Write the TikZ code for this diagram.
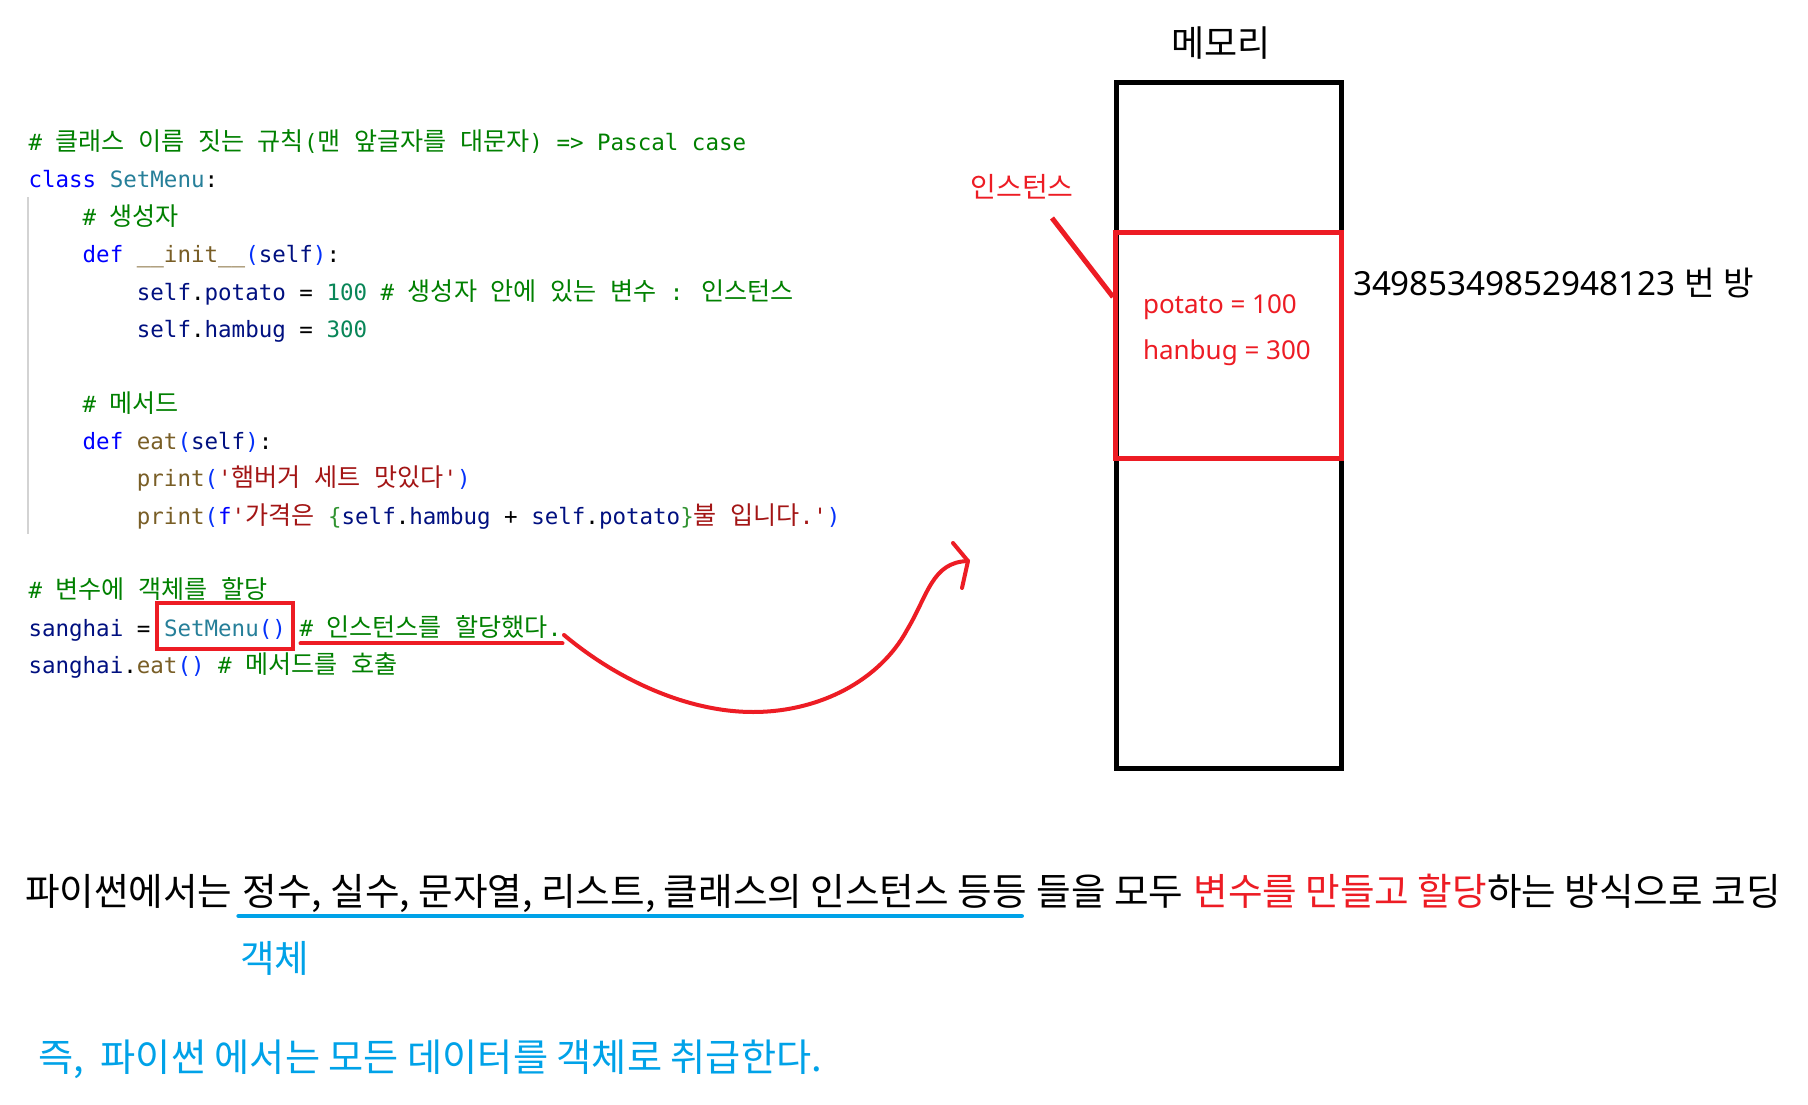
\documentclass[tikz,border=0pt]{standalone}
\usepackage{fontspec}
\setmainfont{Noto Sans}
\newfontfamily\codefont{DejaVu Sans Mono}[Ligatures=TeXOff]
\newfontfamily\hangulfont{Noto Sans CJK KR}
\def\hangulswitch{\hangulfont}
\newcommand\K[1]{{\hangulswitch #1}}

\definecolor{cmt}{HTML}{008000}
\definecolor{kwd}{HTML}{0000FF}
\definecolor{clsc}{HTML}{267F99}
\definecolor{varc}{HTML}{001080}
\definecolor{func}{HTML}{795E26}
\definecolor{numc}{HTML}{098658}
\definecolor{strc}{HTML}{A31515}
\definecolor{bra}{HTML}{0431FA}
\definecolor{brb}{HTML}{319331}
\definecolor{pred}{HTML}{ED1C24}
\definecolor{pblue}{HTML}{00A2E8}
\definecolor{guide}{HTML}{D3D3D3}

\newcommand\Ccm[1]{\textcolor{cmt}{#1}}
\newcommand\Ckw[1]{\textcolor{kwd}{#1}}
\newcommand\Ccl[1]{\textcolor{clsc}{#1}}
\newcommand\Cva[1]{\textcolor{varc}{#1}}
\newcommand\Cfn[1]{\textcolor{func}{#1}}
\newcommand\Cnu[1]{\textcolor{numc}{#1}}
\newcommand\Cst[1]{\textcolor{strc}{#1}}
\newcommand\Cba[1]{\textcolor{bra}{#1}}
\newcommand\Cbb[1]{\textcolor{brb}{#1}}
\newcommand\codesetup{\codefont\fontsize{22.5}{26}\selectfont\def\hangulswitch{\hangulfont\fontsize{25.1}{26}\selectfont}}

\tikzset{
  codeline/.style={anchor=base west, inner sep=0pt, outer sep=0pt, font=\codesetup},
  bigtxt/.style={anchor=base west, inner sep=0pt, outer sep=0pt, font=\hangulfont\fontsize{37.6}{42}\selectfont},
  memlbl/.style={inner sep=0pt, outer sep=0pt, font=\fontsize{26}{30}\selectfont, text=pred, anchor=base west},
  redpen/.style={draw=pred, line width=4pt, line cap=round, line join=round},
}

\begin{document}
\begin{tikzpicture}[x=1pt, y=-1pt]
\fill[white] (0,0) rectangle (1808,1105);
\useasboundingbox (0,0) rectangle (1808,1105);

% indent guide
\draw[guide, line width=1.3pt] (28,197) -- (28,534);

% code lines
\node[codeline] (l0) at (28.5,150.7) {\Ccm{\# \K{클래스} \K{이름} \K{짓는} \K{규칙}(\K{맨} \K{앞글자를} \K{대문자}) => Pascal case}};
\node[codeline] (l1) at (28.5,188.0) {\Ckw{class} \Ccl{SetMenu}:};
\node[codeline] (l2) at (82.7,225.4) {\Ccm{\# \K{생성자}}};
\node[codeline] (l3) at (82.7,262.7) {\Ckw{def} \Cfn{\_\_init\_\_}\Cba{(}\Cva{self}\Cba{)}:};
\node[codeline] (l4) at (136.9,300.0) {\Cva{self}.\Cva{potato} = \Cnu{100} \Ccm{\# \K{생성자} \K{안에} \K{있는} \K{변수} : \K{인스턴스}}};
\node[codeline] (l5) at (136.9,337.4) {\Cva{self}.\Cva{hambug} = \Cnu{300}};
\node[codeline] (l7) at (82.7,412.0) {\Ccm{\# \K{메서드}}};
\node[codeline] (l8) at (82.7,449.4) {\Ckw{def} \Cfn{eat}\Cba{(}\Cva{self}\Cba{)}:};
\node[codeline] (l9) at (136.9,486.7) {\Cfn{print}\Cba{(}\Cst{'\K{햄버거} \K{세트} \K{맛있다}'}\Cba{)}};
\node[codeline] (l10) at (136.9,524.0) {\Cfn{print}\Cba{(}\Ckw{f}\Cst{'\K{가격은} }\Cbb{\{}\Cva{self}.\Cva{hambug} + \Cva{self}.\Cva{potato}\Cbb{\}}\Cst{\K{불} \K{입니다}.'}\Cba{)}};
\node[codeline] (l12) at (28.5,598.7) {\Ccm{\# \K{변수에} \K{객체를} \K{할당}}};
\node[codeline] (l13a) at (28.5,636.0) {\Cva{sanghai} =};
\node[codeline, draw=pred, line width=4pt, inner xsep=7.5pt, inner ysep=0pt, text height=33pt, text depth=13pt] (l13b) at (156.5,636.0) {\Ccl{SetMenu}\Cba{()}};
\node[codeline] (l13c) at (299.5,636.0) {\Ccm{\# \K{인스턴스를} \K{할당했다}.}};
\node[codeline] (l14) at (28.5,673.4) {\Cva{sanghai}.\Cfn{eat}\Cba{()} \Ccm{\# \K{메서드를} \K{호출}}};

% red underline of the comment
\draw[redpen] ([shift={(1pt,-7.4pt)}]l13c.base west) -- ([shift={(1pt,-7.4pt)}]l13c.base east);

% hand drawn arrow
\coordinate (arrS) at (564,635);
\coordinate (arrE) at (968,561);
\coordinate (ah1) at (953,543);
\coordinate (ah2) at (962,588);
\draw[redpen] (arrS) .. controls (620,682) and (690,712) .. (753,712)
  .. controls (820,712) and (880,680) .. (907,630)
  .. controls (928,595) and (932,562) .. (arrE);
\draw[redpen] (ah1) -- (arrE) -- (ah2);

% memory
\node[inner sep=0pt, outer sep=0pt, font=\hangulfont\fontsize{36}{40}\selectfont, anchor=base] (memlabel) at (1221,57) {메모리};
\node[draw=black, line width=5pt, minimum width=225pt, minimum height=686pt, inner sep=0pt, outer sep=0pt] (mem) at (1229,425.5) {};
\node[draw=pred, line width=5pt, minimum width=226pt, minimum height=226pt, inner sep=0pt, outer sep=0pt] (inst) at (1228.5,345.5) {};
\node[inner sep=0pt, outer sep=0pt, font=\hangulfont\fontsize{28}{30}\selectfont, text=pred, anchor=base] (instlabel) at (1022,197) {인스턴스};
\coordinate (ila) at (1052,218);
\coordinate (ilb) at (1113,297);
\draw[pred, line width=5pt] (ila) -- (ilb);
\node[memlbl] (potato) at (1143,313) {potato = 100};
\node[memlbl] (hanbug) at (1143,359) {hanbug = 300};
\node[inner sep=0pt, outer sep=0pt, font=\fontsize{33.2}{38}\selectfont, anchor=base west] (addr) at (1353,295) {34985349852948123 \K{번} \K{방}};

% bottom text
\node[bigtxt] (b1) at (25,905) {파이썬에서는};
\node[bigtxt] (b2) at ([xshift=10pt]b1.base east) {정수, 실수, 문자열, 리스트, 클래스의 인스턴스 등등};
\node[bigtxt] (b3) at ([xshift=10pt]b2.base east) {들을 모두};
\node[bigtxt, text=pred] (b4) at ([xshift=10pt]b3.base east) {변수를 만들고 할당};
\node[bigtxt] (b5) at (b4.base east) {하는 방식으로 코딩};
\draw[pblue, line width=4.5pt, line cap=round] ([shift={(-4pt,-11pt)}]b2.base west) -- ([shift={(-5pt,-11pt)}]b2.base east);
\node[bigtxt, text=pblue] (obj) at (240,972) {객체};
\node[bigtxt, text=pblue, font=\hangulfont\fontsize{38.2}{42}\selectfont] (concl) at (38,1071) {즉, \ 파이썬 에서는 모든 데이터를 객체로 취급한다.};
\end{tikzpicture}
\end{document}
